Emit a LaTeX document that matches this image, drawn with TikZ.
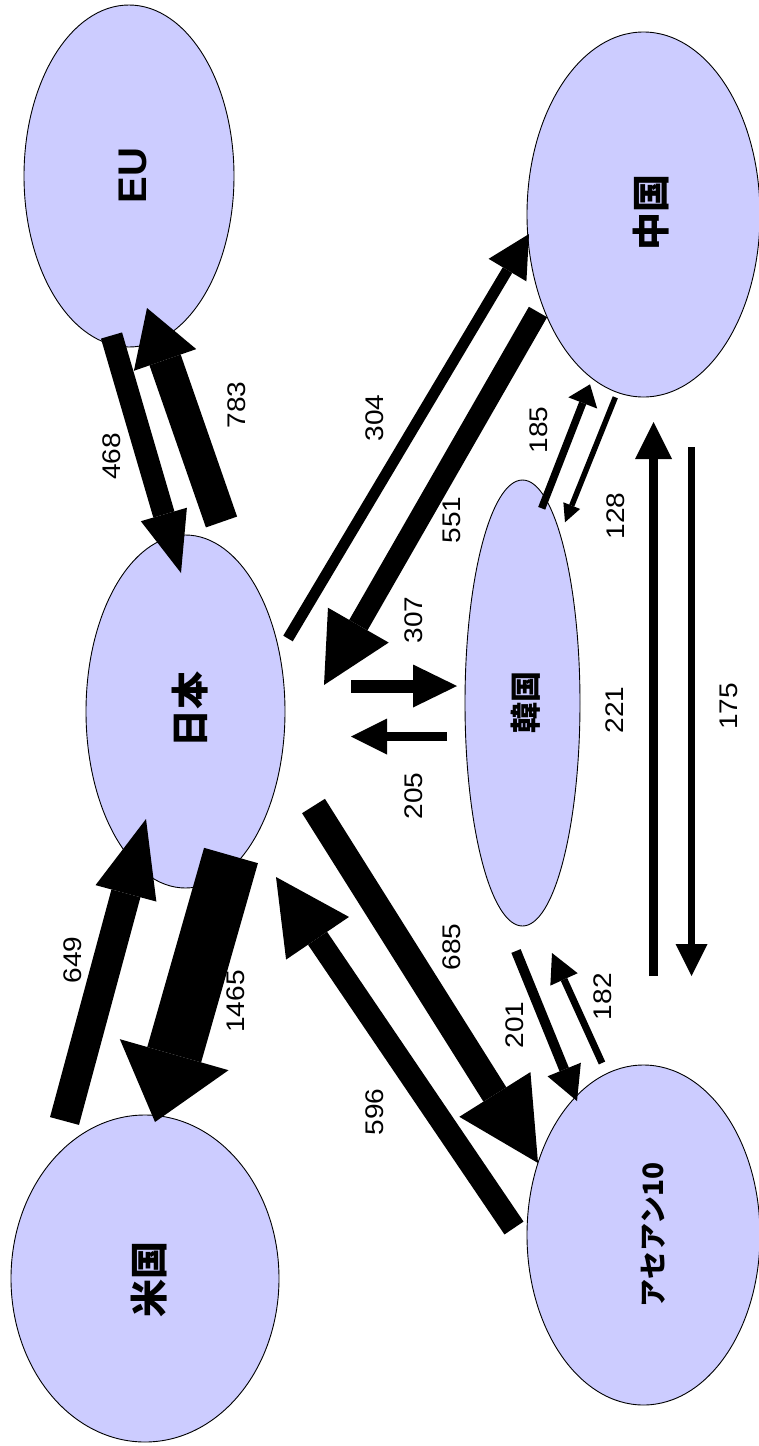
\documentclass[tikz,border=0pt]{standalone}
\usepackage{fontspec}
\usetikzlibrary{arrows.meta,shapes.geometric}
\newfontfamily\numfont{Liberation Sans}[FakeStretch=1.1]
\newfontfamily\latinfont{Liberation Sans}
\newfontfamily\jpfont{Noto Sans CJK JP}
\definecolor{regionfill}{RGB}{204,204,255}

\begin{document}
\begin{tikzpicture}[x=1pt,y=-1pt,
  region/.style 2 args={ellipse, draw=black, line width=0.9pt, fill=regionfill,
    inner sep=0pt, minimum width=#1pt, minimum height=#2pt},
  flow/.style n args={3}{line width=#1pt,
    -{Triangle[width=#2pt,length=#3pt,line width=0pt]}},
  num/.style={rotate=90, inner sep=0pt, font=\numfont\fontsize{25.5}{26}\selectfont},
  place/.style={rotate=90, inner sep=0pt, font=\jpfont\bfseries\fontsize{#1}{#1}\selectfont},
  place/.default=38]

% canvas
\path[fill=white,use as bounding box] (0,0) rectangle (758,1446);

% regions
\node[region={210}{342}]   (eu) at (129,176)     {};
\node[region={233}{365}]   (cn) at (643.5,214.5) {};
\node[region={199}{353}]   (jp) at (185.5,711.5) {};
\node[region={115}{446}]   (kr) at (522.5,703)   {};
\node[region={268}{327}]   (us) at (145,1278.5)  {};
\node[region={233}{340}]   (as) at (643.5,1235)  {};

% region names
\node[rotate=90, inner sep=0pt, font=\latinfont\bfseries\fontsize{40}{40}\selectfont]
  (teu) at (132.5,175.5) {EU};
\node[place]     (tcn) at (651,212.5)  {中国};
\node[place]     (tjp) at (190,709.5)  {日本};
\node[place=31]  (tkr) at (525.5,702.5) {韓国};
\node[place]     (tus) at (148.6,1279) {米国};
\node[place=28]  (tas) at (653,1235)   {アセアン10};

% end points of the flows
\coordinate (f468s)  at (111.5,335.5); \coordinate (f468e)  at (181,573);
\coordinate (f783s)  at (221.5,522);   \coordinate (f783e)  at (147,308);
\coordinate (f304s)  at (288,638.5);   \coordinate (f304e)  at (529,234);
\coordinate (f551s)  at (538,312);     \coordinate (f551e)  at (324,685);
\coordinate (f185s)  at (541.7,508.3); \coordinate (f185e)  at (590,384.3);
\coordinate (f128s)  at (615.3,397.3); \coordinate (f128e)  at (565,522.3);
\coordinate (f221s)  at (653.5,976);   \coordinate (f221e)  at (653.5,422);
\coordinate (f175s)  at (691.5,447);   \coordinate (f175e)  at (691.5,976);
\coordinate (f307s)  at (351,686);     \coordinate (f307e)  at (457,686);
\coordinate (f205s)  at (447,736.5);   \coordinate (f205e)  at (351,736.5);
\coordinate (f649s)  at (64.5,1121);   \coordinate (f649e)  at (146,819);
\coordinate (f1465s) at (231,855.5);   \coordinate (f1465e) at (155,1122);
\coordinate (f685s)  at (313.5,806);   \coordinate (f685e)  at (538,1163);
\coordinate (f596s)  at (514,1228);    \coordinate (f596e)  at (276,877);
\coordinate (f201s)  at (516,951);     \coordinate (f201e)  at (577,1101);
\coordinate (f182s)  at (602,1063);    \coordinate (f182e)  at (552,953);

% flows, shaft width and head size by volume
\draw[flow={22}{48}{61}]   (f468s)  -- (f468e);
\draw[flow={33}{66}{55}]   (f783s)  -- (f783e);
\draw[flow={11}{44}{42}]   (f304s)  -- (f304e);
\draw[flow={21}{70}{69}]   (f551s)  -- (f551e);
\draw[flow={7.5}{31}{20}]  (f185s)  -- (f185e);
\draw[flow={5.5}{18}{18}]  (f128s)  -- (f128e);
\draw[flow={9.5}{37}{37}]  (f221s)  -- (f221e);
\draw[flow={7.5}{32}{32}]  (f175s)  -- (f175e);
\draw[flow={13}{43}{44}]   (f307s)  -- (f307e);
\draw[flow={9}{36}{36}]    (f205s)  -- (f205e);
\draw[flow={30}{63}{77}]   (f649s)  -- (f649e);
\draw[flow={56}{113}{70}]  (f1465s) -- (f1465e);
\draw[flow={27}{84}{81}]   (f685s)  -- (f685e);
\draw[flow={23}{76}{74}]   (f596s)  -- (f596e);
\draw[flow={10}{36}{34}]   (f201s)  -- (f201e);
\draw[flow={7}{30}{29}]    (f182s)  -- (f182e);

% volumes
\node[num] (n468)  at (111.3,456.5) {468};
\node[num] (n783)  at (236.5,405)   {783};
\node[num] (n304)  at (375,418)     {304};
\node[num] (n551)  at (451.7,520)   {551};
\node[num] (n307)  at (414,620)     {307};
\node[num] (n185)  at (538.5,430)   {185};
\node[num] (n128)  at (615.3,516)   {128};
\node[num] (n221)  at (614.7,710)   {221};
\node[num] (n175)  at (728.5,706.5) {175};
\node[num] (n205)  at (414,796)     {205};
\node[num] (n685)  at (452,947)     {685};
\node[num] (n596)  at (375,1112)    {596};
\node[num] (n201)  at (514.7,1025)  {201};
\node[num] (n649)  at (72.8,960)    {649};
\node[num] (n1465) at (236,1001.5)  {1465};
\node[num] (n182)  at (602.5,996.7) {182};
\end{tikzpicture}
\end{document}
